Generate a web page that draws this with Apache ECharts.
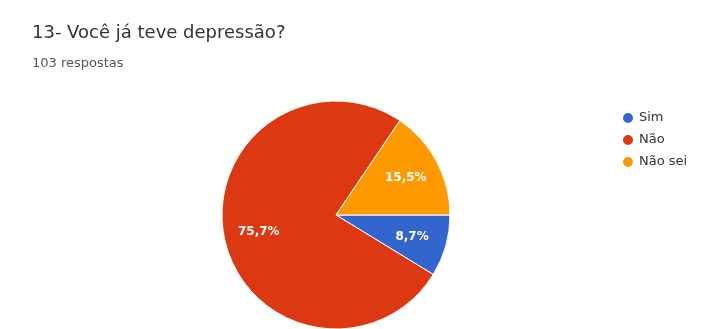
<!DOCTYPE html>
<html>
<head>
<meta charset="utf-8">
<script src="https://cdn.jsdelivr.net/npm/echarts@6/dist/echarts.min.js"></script>
<style>
html, body { margin: 0; padding: 0; background: #fff; }
#chart { width: 702px; height: 329px; }
</style>
</head>
<body>
<div id="chart"></div>
<script>
// respostas
var categories = ['Sim', 'Não', 'Não sei'];
var counts = [9, 78, 16];
var colors = ['#3366cc', '#dc3912', '#ff9900'];

var chart = echarts.init(document.getElementById('chart'));

var pieData = categories.map(function (name, i) {
    return { name: name, value: counts[i], itemStyle: { color: colors[i] } };
});

var total = counts.reduce(function (a, b) { return a + b; }, 0);

chart.setOption({
    animation: false,
    textStyle: { fontFamily: '"DejaVu Sans", sans-serif' },
    title: {
        text: '13- Você já teve depressão?',
        subtext: '103 respostas',
        left: 27,
        top: 19,
        itemGap: 15,
        textStyle: { fontSize: 18, fontWeight: 'normal', color: '#333' },
        subtextStyle: { fontSize: 13, color: '#555' }
    },
    legend: {
        orient: 'vertical',
        left: 616,
        top: 106,
        icon: 'circle',
        itemWidth: 12,
        itemHeight: 12,
        itemGap: 8,
        textStyle: { fontSize: 13, color: '#333' },
        data: categories
    },
    series: [{
        type: 'pie',
        center: [336, 215],
        radius: [0, 114],
        startAngle: 0,
        clockwise: true,
        silent: true,
        itemStyle: { borderColor: '#fff', borderWidth: 1 },
        label: { show: false },
        labelLine: { show: false },
        data: pieData
    }, {
        // labels only
        type: 'pie',
        center: [336, 215],
        radius: [38, 114],
        startAngle: 0,
        clockwise: true,
        silent: true,
        legendHoverLink: false,
        itemStyle: { color: 'rgba(0,0,0,0)' },
        label: {
            show: true,
            position: 'inner',
            color: '#fff',
            fontSize: 12,
            fontWeight: 'bold',
            formatter: function (p) {
                return (p.value / total * 100).toFixed(1).replace('.', ',') + '%';
            }
        },
        labelLine: { show: false },
        data: categories.map(function (name, i) {
            return { name: name + ' ', value: counts[i] };
        })
    }]
});
</script>
</body>
</html>
